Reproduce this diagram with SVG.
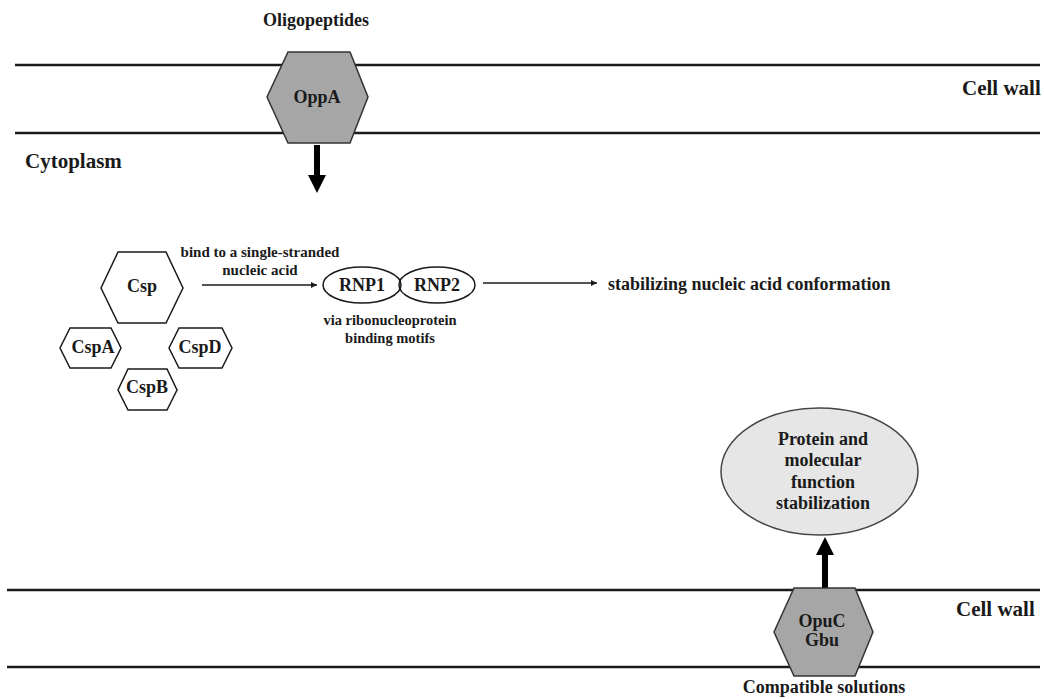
<svg xmlns="http://www.w3.org/2000/svg" width="1044" height="699" viewBox="0 0 1044 699">
<style>
text{font-family:"Liberation Serif","Times New Roman",serif;font-weight:bold;fill:#1a1a1a;}
.c{text-anchor:middle;}
.t18{font-size:18px;}
.t21{font-size:21px;}
.t15{font-size:15px;}
.wall{stroke:#1a1a1a;stroke-width:2.5;fill:none;}
.hexg{fill:#a6a6a6;stroke:#333;stroke-width:1.5;}
.hexw{fill:#fff;stroke:#1a1a1a;stroke-width:1.5;}
.thin{stroke:#1a1a1a;stroke-width:1.5;fill:none;}
.thick{stroke:#000;stroke-width:6;fill:none;}
</style>
<defs>
<marker id="ah" viewBox="0 0 10 10" refX="10" refY="5" markerWidth="8" markerHeight="6" markerUnits="userSpaceOnUse" orient="auto"><path d="M0,0 L10,5 L0,10 z" fill="#1a1a1a"/></marker>
</defs>
<rect width="1044" height="699" fill="#fff"/>
<g id="membranes">
<line class="wall" x1="15" y1="65" x2="1040" y2="65"/>
<line class="wall" x1="15" y1="133" x2="1040" y2="133"/>
<line class="wall" x1="7" y1="590" x2="1040" y2="590"/>
<line class="wall" x1="7" y1="667" x2="1040" y2="667"/>
<text class="t21" x="962" y="95">Cell wall</text>
<text class="t21" x="956" y="616">Cell wall</text>
<text class="t21" x="25" y="168">Cytoplasm</text>
</g>
<g id="connectors">
<line class="thick" x1="317" y1="145" x2="317" y2="176"/>
<path d="M308,175 L326,175 L317,193 z" fill="#000"/>
<line class="thick" x1="825" y1="588" x2="825" y2="554"/>
<path d="M816,555 L834,555 L825,537 z" fill="#000"/>
<line class="thin" x1="202" y1="285" x2="317" y2="285" marker-end="url(#ah)"/>
<line class="thin" x1="483" y1="283" x2="597" y2="283" marker-end="url(#ah)"/>
<text class="t15 c" x="260" y="257">bind to a single-stranded</text>
<text class="t15 c" x="260" y="275">nucleic acid</text>
<text class="c" style="font-size:14.5px" x="390" y="325">via ribonucleoprotein</text>
<text class="c" style="font-size:14.5px" x="390" y="343">binding motifs</text>
</g>
<g id="oligopeptides"><text class="t18 c" x="316" y="26">Oligopeptides</text></g>
<g id="oppA">
<polygon class="hexg" points="288,52 350,52 368,97 350,143 288,143 267,97"/>
<text class="t18 c" x="317" y="103">OppA</text>
</g>
<g id="csp">
<polygon class="hexw" points="118,252 166,252 183,288 166,323 118,323 101,288"/>
<text class="t18 c" x="142" y="292">Csp</text>
</g>
<g id="cspA">
<polygon class="hexw" points="70,328 111,328 121,348 111,368 70,368 60,348"/>
<text class="t18 c" x="93" y="353">CspA</text>
</g>
<g id="cspD">
<polygon class="hexw" points="179,328 222,328 232,348 222,368 179,368 169,348"/>
<text class="t18 c" x="200" y="353">CspD</text>
</g>
<g id="cspB">
<polygon class="hexw" points="128,369 167,369 177,390 167,410 128,410 118,390"/>
<text class="t18 c" x="147" y="393">CspB</text>
</g>
<g id="rnp1">
<ellipse class="thin" cx="362" cy="285" rx="39" ry="18" fill="#fff"/>
<text class="t18 c" x="362" y="291">RNP1</text>
</g>
<g id="rnp2">
<ellipse class="thin" cx="437" cy="285" rx="38" ry="18" fill="#fff"/>
<text class="t18 c" x="437" y="291">RNP2</text>
</g>
<g id="stabilizing">
<text class="t18" x="608" y="290">stabilizing nucleic acid conformation</text>
</g>
<g id="protein">
<ellipse cx="819.5" cy="471.5" rx="98.5" ry="63.5" fill="#e6e6e6" stroke="#444" stroke-width="1.5"/>
<text class="t18 c" x="823" y="445">Protein and</text>
<text class="t18 c" x="823" y="466">molecular</text>
<text class="t18 c" x="823" y="488">function</text>
<text class="t18 c" x="823" y="509">stabilization</text>
</g>
<g id="opuC">
<polygon class="hexg" points="794,588 855,588 873,632 855,676 794,676 774,632"/>
<text class="t18 c" x="822" y="627">OpuC</text>
<text class="t18 c" x="822" y="646">Gbu</text>
</g>
<g id="compatible"><text class="t18 c" x="824" y="693">Compatible solutions</text></g>
</svg>
